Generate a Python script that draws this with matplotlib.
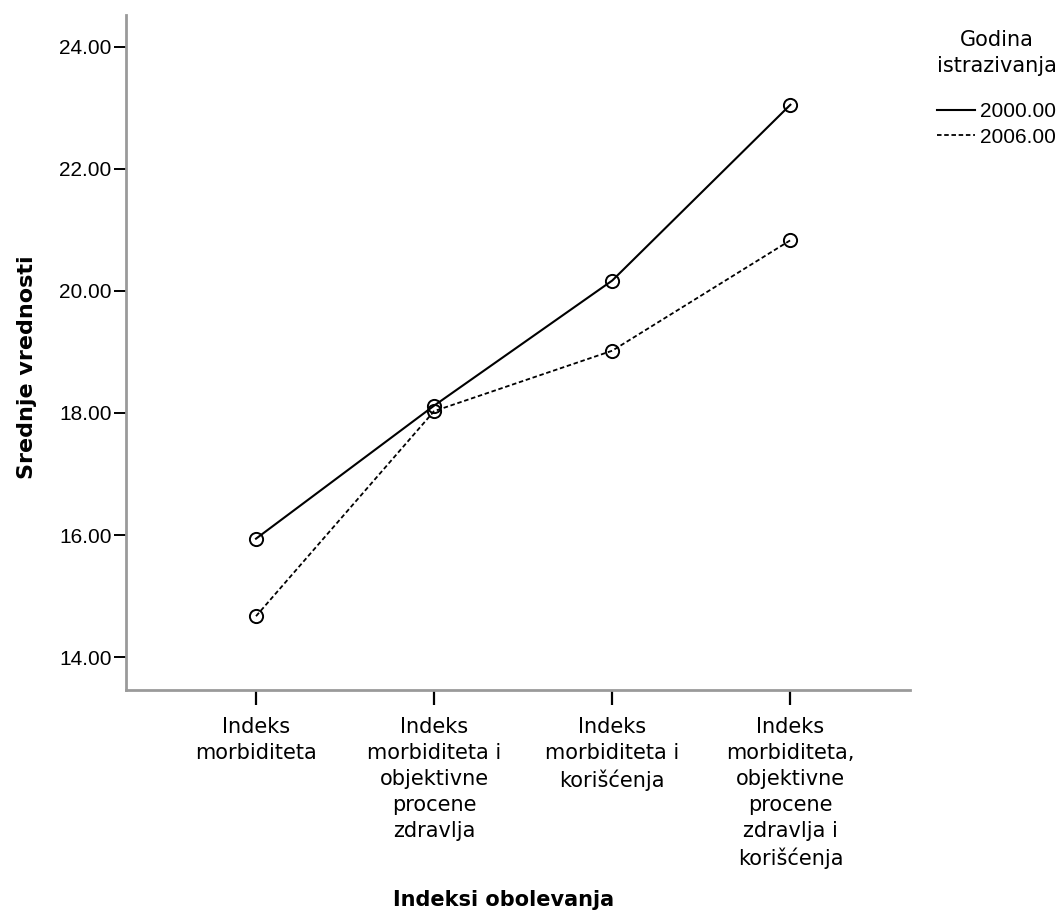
import matplotlib
matplotlib.use("Agg")
import matplotlib.pyplot as plt
from matplotlib.lines import Line2D

plt.rcParams['font.family'] = ['DejaVu Sans']

# Data
categories = [
    "Indeks\nmorbiditeta",
    "Indeks\nmorbiditeta i\nobjektivne\nprocene\nzdravlja",
    "Indeks\nmorbiditeta i\nkorišćenja",
    "Indeks\nmorbiditeta,\nobjektivne\nprocene\nzdravlja i\nkorišćenja",
]
years = ["2000.00", "2006.00"]
means_2000 = [15.94, 18.12, 20.17, 23.05]
means_2006 = [14.67, 18.03, 19.02, 20.83]
y_ticks = [14, 16, 18, 20, 22, 24]

num_font = {'family': ['Liberation Sans', 'DejaVu Sans'], 'size': 15}
dash = (0, (2.5, 1.5))

fig = plt.figure(figsize=(10.64, 9.23), dpi=100)
ax = fig.add_axes([0.1184, 0.2524, 0.7366, 0.7313])

x = list(range(len(categories)))
ax.plot(x, means_2000, color='black', linewidth=1.5, linestyle='-',
        marker='o', markersize=9.5, markerfacecolor='none',
        markeredgecolor='black', markeredgewidth=1.4)
ax.plot(x, means_2006, color='black', linewidth=1.3, linestyle=dash,
        marker='o', markersize=9.5, markerfacecolor='none',
        markeredgecolor='black', markeredgewidth=1.4)

ax.set_xlim(-0.73, 3.67)
ax.set_ylim(13.46, 24.52)
ax.set_yticks(y_ticks)
ax.set_yticklabels([f"{v:.2f}" for v in y_ticks], fontdict=num_font)
ax.set_xticks(x)
ax.set_xticklabels(categories, fontsize=15, linespacing=1.37)

for side in ['top', 'right']:
    ax.spines[side].set_visible(False)
for side in ['left', 'bottom']:
    ax.spines[side].set_color('#9a9a9a')
    ax.spines[side].set_linewidth(2)
ax.tick_params(axis='y', length=9, width=1.4, color='black', pad=1.5)
ax.tick_params(axis='x', length=11, width=1.6, color='black', pad=8.5)

ax.set_ylabel("Srednje vrednosti", fontsize=16, fontweight='bold')
ax.yaxis.set_label_coords(-0.113, 0.478)
fig.text(0.473, 0.025, "Indeksi obolevanja", fontsize=15, fontweight='bold',
         ha='center', va='center')

handles = [
    Line2D([], [], color='black', linewidth=1.5, linestyle='-'),
    Line2D([], [], color='black', linewidth=1.3, linestyle=dash),
]
leg = fig.legend(handles, years, loc='upper right', bbox_to_anchor=(0.993, 0.967),
                 frameon=False, title="Godina\nistrazivanja", prop=num_font,
                 title_fontproperties={'size': 15}, handlelength=1.8,
                 handletextpad=0.25, labelspacing=0.3, borderaxespad=0,
                 borderpad=0)
leg.get_title().set_multialignment('center')
leg.get_title().set_linespacing(1.35)
leg._legend_box.sep = 19

fig.savefig("out.png", dpi=100)
